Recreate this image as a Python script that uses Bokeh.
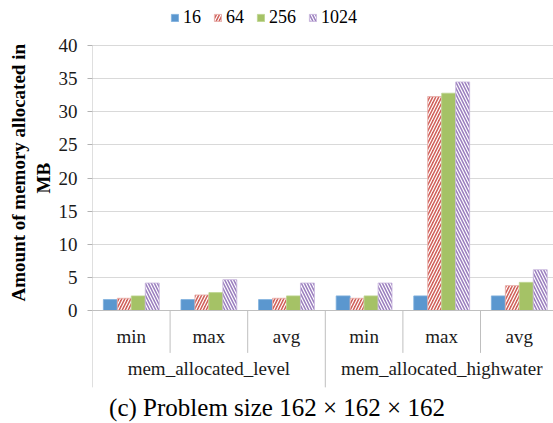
from bokeh.plotting import figure
from bokeh.models import FixedTicker, Legend, LegendItem, ColumnDataSource, Range1d, Title
from bokeh.core.properties import value
from bokeh.embed import file_html
from bokeh.resources import INLINE

# ---- data ----
groups = ["mem_allocated_level", "mem_allocated_highwater"]
stats = ["min", "max", "avg", "min", "max", "avg"]
series = ["16", "64", "256", "1024"]
s16 = [1.65, 1.65, 1.65, 2.2, 2.2, 2.2]
s64 = [1.85, 2.35, 1.85, 1.85, 32.3, 3.75]
s256 = [2.2, 2.7, 2.2, 2.2, 32.8, 4.25]
s1024 = [4.15, 4.65, 4.15, 4.15, 34.5, 6.15]
y_ticks = [0, 5, 10, 15, 20, 25, 30, 35, 40]
title_text = "(c) Problem size 162 \u00d7 162 \u00d7 162"
y_label_lines = ["Amount of memory allocated in", "MB"]

# ---- styling / layout ----
W, H = 553, 423
LEFT = 92
PX_UNIT_X = 77.6
TOP_PX, ZERO_PX = 45, 310
px_per_y = (ZERO_PX - TOP_PX) / max(y_ticks)
y_top = max(y_ticks) + TOP_PX / px_per_y
y_bot = -(H - ZERO_PX) / px_per_y
x_end = (W - LEFT) / PX_UNIT_X

colors = ["#5b97cf", "#d0605a", "#a5c266", "#9a7ebe"]
edges = ["#7fb0dd", "#e8b0ab", "#bcd48f", "#c9b8dd"]
hatches = [None, "/", None, "\\"]
offsets = [-0.27, -0.09, 0.09, 0.27]
bar_w = 0.18
FONT = "Liberation Serif"

p = figure(width=W, height=H, output_backend="svg", toolbar_location=None,
           x_range=Range1d(0, x_end), y_range=Range1d(y_bot, y_top),
           x_axis_location=None, min_border_left=LEFT, min_border_right=0,
           min_border_top=0, min_border_bottom=0)
p.outline_line_color = None
p.xgrid.visible = False
p.ygrid.ticker = FixedTicker(ticks=y_ticks)
p.ygrid.grid_line_color = "#d9d9d9"

ax = p.yaxis[0]
ax.ticker = FixedTicker(ticks=y_ticks)
ax.axis_line_color = None
ax.major_tick_out = 5
ax.major_tick_in = 0
ax.minor_tick_line_color = None
ax.major_tick_line_color = "#b3b3b3"
ax.major_label_text_font = FONT
ax.major_label_text_font_size = "19px"
ax.major_label_text_color = "#1a1a1a"
ax.major_label_standoff = 10

# y axis title: two lines, bottom-anchored and shifted up (like the reference)
LBL_SIZE = 19
line_bottoms_px = [301, 193]   # screen y where each line starts (reading upward)
for txt, ybtm, so in [(y_label_lines[1], line_bottoms_px[1], 4),
                      (y_label_lines[0], line_bottoms_px[0], 0)]:
    p.add_layout(Title(text=txt, align="left", offset=H - ybtm, standoff=so,
                       text_font=FONT, text_font_style="bold",
                       text_font_size=f"{LBL_SIZE}px", text_color="#000000"), "left")

n = len(stats)
centers = [i + 0.5 for i in range(n)]
vals = [s16, s64, s256, s1024]
items = []
for k, name in enumerate(series):
    src = ColumnDataSource(dict(x=[c + offsets[k] for c in centers], top=vals[k]))
    kw = dict(x="x", top="top", width=bar_w, bottom=0, source=src,
              fill_color=colors[k], line_color=edges[k], line_width=0.8)
    if hatches[k]:
        kw.update(hatch_pattern=hatches[k], hatch_color="white",
                  hatch_weight=1.2, hatch_scale=6)
    r = p.vbar(**kw)
    items.append(LegendItem(label=name, renderers=[r]))

# baseline and category separators
axis_bottom = -11.6
sep_bottom = -6.4
p.segment(x0=[0], y0=[0], x1=[n], y1=[0], line_color="#bfbfbf", line_width=1)
p.segment(x0=[0], y0=[axis_bottom], x1=[0], y1=[max(y_ticks)], line_color="#bfbfbf", line_width=1)
p.segment(x0=[1, 2, 4, 5], y0=[sep_bottom] * 4, x1=[1, 2, 4, 5], y1=[0] * 4,
          line_color="#bfbfbf", line_width=1)
p.segment(x0=[3], y0=[axis_bottom], x1=[3], y1=[0], line_color="#bfbfbf", line_width=1)

# category labels
p.text(x=centers, y=[-3.9] * n, text=stats, text_font=value(FONT),
       text_font_size="19px", text_align="center", text_baseline="middle",
       text_color="#1a1a1a")
p.text(x=[1.5, 4.5], y=[-8.8] * 2, text=groups, text_font=value(FONT),
       text_font_size="19px", text_align="center", text_baseline="middle",
       text_color="#1a1a1a")
# caption
p.text(x=[(W / 2 - LEFT) / PX_UNIT_X], y=[-14.6], text=[title_text],
       text_font=value(FONT), text_font_size="25px", text_align="center",
       text_baseline="middle", text_color="#000000")

legend = Legend(items=items, orientation="horizontal", location=(78, 395),
                glyph_width=9, glyph_height=9, label_standoff=4, spacing=12,
                label_width=0, padding=0, margin=0, border_line_color=None,
                background_fill_alpha=0,
                label_text_font=FONT, label_text_font_size="18px",
                label_text_color="#000000")
p.add_layout(legend)

open("out.html", "w").write(file_html(p, INLINE))
